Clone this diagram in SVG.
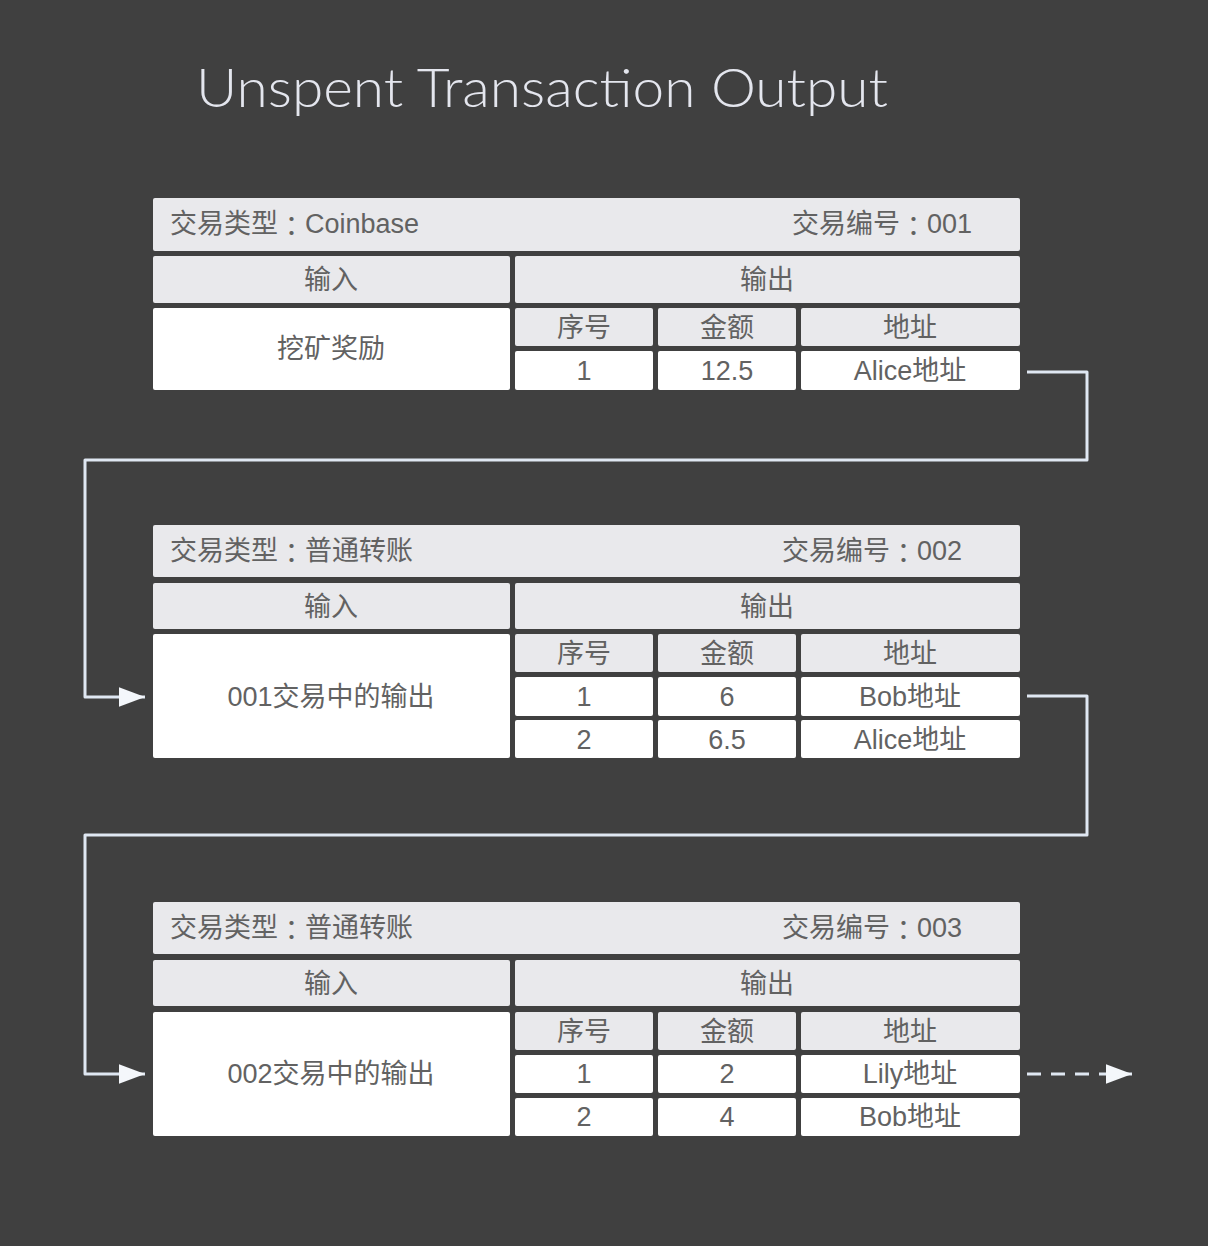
<svg xmlns="http://www.w3.org/2000/svg" width="1208" height="1246" viewBox="0 0 1208 1246">
<defs>
<style>
.hd{fill:#e9e9ec;}
.cl{fill:#ffffff;}
.t{font-family:"Liberation Sans","Noto Sans CJK SC",sans-serif;font-size:27px;fill:#626262;dominant-baseline:central;}
.c{text-anchor:middle;}
.col{font-family:"Noto Sans CJK JP",sans-serif;}
.ln{fill:none;stroke:#dfe7f2;stroke-width:3;stroke-linejoin:round;}
.dash{stroke-dasharray:14 10;}
</style>
<marker id="arr" viewBox="0 0 12 10" refX="12" refY="5" markerWidth="26" markerHeight="22" markerUnits="userSpaceOnUse" orient="auto">
<path d="M0,0.5 L12,5 L0,9.5 z" fill="#f4f7fb"/>
</marker>
</defs>
<rect x="0" y="0" width="1208" height="1246" fill="#404040"/>
<text x="196" y="107" font-family="Lato,'Open Sans','Liberation Sans',sans-serif" font-weight="300" font-size="54" fill="#e4e6ee" textLength="692" lengthAdjust="spacingAndGlyphs">Unspent Transaction Output</text>

<g id="tx001" transform="translate(0,198)">
<rect class="hd" x="153" y="0" width="867" height="53" rx="2"/>
<text class="t" x="170" y="26">交易类型<tspan class="col">：</tspan>Coinbase</text>
<text class="t" x="972" y="26" text-anchor="end">交易编号<tspan class="col">：</tspan>001</text>
<rect class="hd" x="153" y="58" width="357" height="47" rx="2"/>
<rect class="hd" x="515" y="58" width="505" height="47" rx="2"/>
<text class="t c" x="331" y="82">输入</text>
<text class="t c" x="767" y="82">输出</text>
<rect class="cl" x="153" y="110" width="357" height="82" rx="2"/>
<text class="t c" x="331" y="151">挖矿奖励</text>
<rect class="hd" x="515" y="110" width="138" height="38" rx="2"/>
<rect class="hd" x="658" y="110" width="138" height="38" rx="2"/>
<rect class="hd" x="801" y="110" width="219" height="38" rx="2"/>
<text class="t c" x="584" y="130">序号</text>
<text class="t c" x="727" y="130">金额</text>
<text class="t c" x="910" y="130">地址</text>
<rect class="cl" x="515" y="153" width="138" height="39" rx="2"/>
<rect class="cl" x="658" y="153" width="138" height="39" rx="2"/>
<rect class="cl" x="801" y="153" width="219" height="39" rx="2"/>
<text class="t c" x="584" y="173">1</text>
<text class="t c" x="727" y="173">12.5</text>
<text class="t c" x="910" y="173">Alice地址</text>
</g>

<g id="tx002" transform="translate(0,525)">
<rect class="hd" x="153" y="0" width="867" height="52" rx="2"/>
<text class="t" x="170" y="26">交易类型<tspan class="col">：</tspan>普通转账</text>
<text class="t" x="962" y="26" text-anchor="end">交易编号<tspan class="col">：</tspan>002</text>
<rect class="hd" x="153" y="58" width="357" height="46" rx="2"/>
<rect class="hd" x="515" y="58" width="505" height="46" rx="2"/>
<text class="t c" x="331" y="82">输入</text>
<text class="t c" x="767" y="82">输出</text>
<rect class="cl" x="153" y="109" width="357" height="124" rx="2"/>
<text class="t c" x="331" y="172">001交易中的输出</text>
<rect class="hd" x="515" y="109" width="138" height="38" rx="2"/>
<rect class="hd" x="658" y="109" width="138" height="38" rx="2"/>
<rect class="hd" x="801" y="109" width="219" height="38" rx="2"/>
<text class="t c" x="584" y="129">序号</text>
<text class="t c" x="727" y="129">金额</text>
<text class="t c" x="910" y="129">地址</text>
<rect class="cl" x="515" y="152" width="138" height="39" rx="2"/>
<rect class="cl" x="658" y="152" width="138" height="39" rx="2"/>
<rect class="cl" x="801" y="152" width="219" height="39" rx="2"/>
<text class="t c" x="584" y="172">1</text>
<text class="t c" x="727" y="172">6</text>
<text class="t c" x="910" y="172">Bob地址</text>
<rect class="cl" x="515" y="195" width="138" height="38" rx="2"/>
<rect class="cl" x="658" y="195" width="138" height="38" rx="2"/>
<rect class="cl" x="801" y="195" width="219" height="38" rx="2"/>
<text class="t c" x="584" y="215">2</text>
<text class="t c" x="727" y="215">6.5</text>
<text class="t c" x="910" y="215">Alice地址</text>
</g>

<g id="tx003" transform="translate(0,902)">
<rect class="hd" x="153" y="0" width="867" height="52" rx="2"/>
<text class="t" x="170" y="26">交易类型<tspan class="col">：</tspan>普通转账</text>
<text class="t" x="962" y="26" text-anchor="end">交易编号<tspan class="col">：</tspan>003</text>
<rect class="hd" x="153" y="58" width="357" height="46" rx="2"/>
<rect class="hd" x="515" y="58" width="505" height="46" rx="2"/>
<text class="t c" x="331" y="82">输入</text>
<text class="t c" x="767" y="82">输出</text>
<rect class="cl" x="153" y="110" width="357" height="124" rx="2"/>
<text class="t c" x="331" y="172">002交易中的输出</text>
<rect class="hd" x="515" y="110" width="138" height="38" rx="2"/>
<rect class="hd" x="658" y="110" width="138" height="38" rx="2"/>
<rect class="hd" x="801" y="110" width="219" height="38" rx="2"/>
<text class="t c" x="584" y="130">序号</text>
<text class="t c" x="727" y="130">金额</text>
<text class="t c" x="910" y="130">地址</text>
<rect class="cl" x="515" y="153" width="138" height="38" rx="2"/>
<rect class="cl" x="658" y="153" width="138" height="38" rx="2"/>
<rect class="cl" x="801" y="153" width="219" height="38" rx="2"/>
<text class="t c" x="584" y="172">1</text>
<text class="t c" x="727" y="172">2</text>
<text class="t c" x="910" y="172">Lily地址</text>
<rect class="cl" x="515" y="196" width="138" height="38" rx="2"/>
<rect class="cl" x="658" y="196" width="138" height="38" rx="2"/>
<rect class="cl" x="801" y="196" width="219" height="38" rx="2"/>
<text class="t c" x="584" y="215">2</text>
<text class="t c" x="727" y="215">4</text>
<text class="t c" x="910" y="215">Bob地址</text>
</g>

<g id="connectors">
<path class="ln" d="M1027,372 H1087 V460 H85 V697 H145" marker-end="url(#arr)"/>
<path class="ln" d="M1027,696 H1087 V835 H85 V1074 H145" marker-end="url(#arr)"/>
<path class="ln dash" d="M1027,1074 H1132" marker-end="url(#arr)"/>
</g>
</svg>
